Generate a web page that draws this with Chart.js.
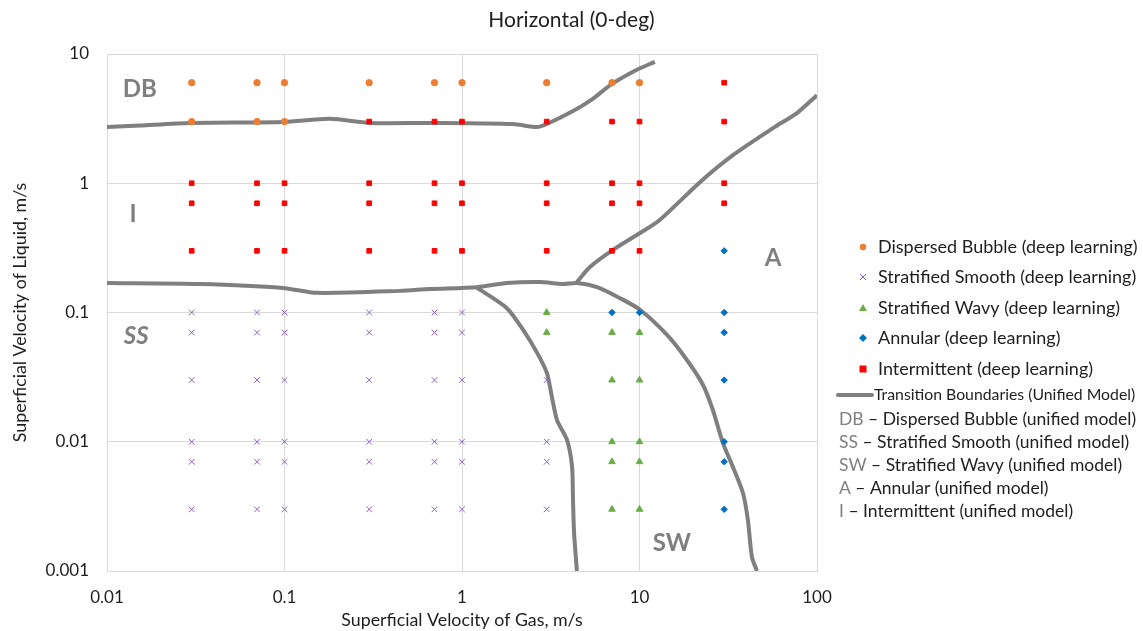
<!DOCTYPE html>
<html>
<head>
<meta charset="utf-8">
<script src="https://cdn.jsdelivr.net/npm/chart.js@4/dist/chart.umd.min.js"></script>
<style>
  html, body { margin: 0; padding: 0; background: #fff; }
  #wrap { width: 1143px; height: 631px; position: relative; }
</style>
</head>
<body>
<div id="wrap"><canvas id="flowMap"></canvas></div>
<script>
// axis ticks (decades)
const xTicks = [0.01, 0.1, 1, 10, 100];
const yTicks = [0.001, 0.01, 0.1, 1, 10];

// deep learning predictions, [gas velocity, liquid velocity]
const dispersedBubble = [
    [0.03, 6], [0.07, 6], [0.1, 6], [0.3, 6], [0.7, 6], [1, 6], [3, 6], [7, 6], [10, 6],
    [0.03, 3], [0.07, 3], [0.1, 3]
];
const stratifiedSmooth = [
    [0.03, 0.1], [0.07, 0.1], [0.1, 0.1], [0.3, 0.1], [0.7, 0.1], [1, 0.1],
    [0.03, 0.07], [0.07, 0.07], [0.1, 0.07], [0.3, 0.07], [0.7, 0.07], [1, 0.07],
    [0.03, 0.03], [0.07, 0.03], [0.1, 0.03], [0.3, 0.03], [0.7, 0.03], [1, 0.03], [3, 0.03],
    [0.03, 0.01], [0.07, 0.01], [0.1, 0.01], [0.3, 0.01], [0.7, 0.01], [1, 0.01], [3, 0.01],
    [0.03, 0.007], [0.07, 0.007], [0.1, 0.007], [0.3, 0.007], [0.7, 0.007], [1, 0.007], [3, 0.007],
    [0.03, 0.003], [0.07, 0.003], [0.1, 0.003], [0.3, 0.003], [0.7, 0.003], [1, 0.003], [3, 0.003]
];
const stratifiedWavy = [
    [3, 0.1], [3, 0.07], [7, 0.07], [10, 0.07],
    [7, 0.03], [10, 0.03], [7, 0.01], [10, 0.01],
    [7, 0.007], [10, 0.007], [7, 0.003], [10, 0.003]
];
const annular = [
    [30, 0.3], [7, 0.1], [10, 0.1], [30, 0.1], [30, 0.07],
    [30, 0.03], [30, 0.01], [30, 0.007], [30, 0.003]
];
const intermittent = [
    [30, 6],
    [0.3, 3], [0.7, 3], [1, 3], [3, 3], [7, 3], [10, 3], [30, 3],
    [0.03, 1], [0.07, 1], [0.1, 1], [0.3, 1], [0.7, 1], [1, 1], [3, 1], [7, 1], [10, 1], [30, 1],
    [0.03, 0.7], [0.07, 0.7], [0.1, 0.7], [0.3, 0.7], [0.7, 0.7], [1, 0.7], [3, 0.7], [7, 0.7], [10, 0.7], [30, 0.7],
    [0.03, 0.3], [0.07, 0.3], [0.1, 0.3], [0.3, 0.3], [0.7, 0.3], [1, 0.3], [3, 0.3], [7, 0.3], [10, 0.3]
];

// unified model transition boundaries
const boundaryDB = [
    [0.01, 2.72], [0.0153, 2.8], [0.0294, 2.93], [0.0993, 2.98], [0.18, 3.15], [0.303, 2.93],
    [0.687, 2.93], [1.94, 2.87], [2.65, 2.72], [3.05, 2.9], [4.2, 3.6], [5.4, 4.45],
    [6.9, 5.8], [9.2, 7.3], [12.2, 8.7]
];
const boundaryA = [
    [4.44, 0.172], [5.26, 0.225], [7.09, 0.305], [10.07, 0.412], [13.0, 0.52],
    [21.9, 1.02], [33.6, 1.65], [56.5, 2.67], [77.1, 3.49], [100, 4.8]
];
const boundarySS = [
    [0.01, 0.169], [0.0334, 0.166], [0.098, 0.155], [0.152, 0.142], [0.448, 0.147],
    [0.66, 0.152], [1.216, 0.157], [1.79, 0.169], [2.75, 0.172], [3.7, 0.166], [4.44, 0.169],
    [5.77, 0.157], [7.77, 0.129], [10.07, 0.105], [14.3, 0.067], [18.5, 0.0429],
    [22.8, 0.0275], [25.9, 0.0176], [29.5, 0.0098], [33.6, 0.00638], [38.3, 0.004],
    [40.8, 0.00248], [43.0, 0.00128], [45.9, 0.001]
];
const boundarySW = [
    [1.2, 0.157], [1.79, 0.108], [2.21, 0.0733], [2.65, 0.0487], [3.01, 0.034],
    [3.21, 0.0222], [3.43, 0.0147], [3.91, 0.0103], [4.17, 0.0064], [4.22, 0.00354],
    [4.28, 0.00197], [4.44, 0.001]
];

// regime names written inside the map, at [gas, liquid]
const regionNames = ['DB', 'I', 'SS', 'A', 'SW'];
const regionSpots = [[0.0153, 5.36], [0.014, 0.578], [0.0146, 0.0658], [56.5, 0.264], [15.2, 0.00165]];

const FONT = 'Lato, "Open Sans", sans-serif';
const GREY = '#7f7f7f';
const INK = '#1e1e1e';

function toPoints(pairs) {
    return pairs.map(p => ({ x: p[0], y: p[1] }));
}

function markerSet(label, pairs, style, color, radius, extra) {
    return Object.assign({
        label: label,
        data: toPoints(pairs),
        pointStyle: style,
        pointRadius: radius,
        pointHoverRadius: radius,
        backgroundColor: color,
        borderColor: color,
        pointBorderWidth: 1,
        showLine: false,
        order: 0
    }, extra || {});
}

function boundarySet(pairs) {
    return {
        label: 'Transition Boundaries (Unified Model)',
        data: toPoints(pairs),
        showLine: true,
        borderColor: GREY,
        borderWidth: 4,
        pointRadius: 0,
        tension: 0.25,
        fill: false,
        order: 5
    };
}

// title, region names and the custom legend on the right
const annotations = {
    id: 'annotations',
    afterDatasetsDraw(chart) {
        const ctx = chart.ctx;
        const xs = chart.scales.x, ys = chart.scales.y;
        ctx.save();
        ctx.fillStyle = GREY;
        ctx.textAlign = 'center';
        ctx.textBaseline = 'middle';
        regionNames.forEach((name, i) => {
            ctx.font = (name === 'SS' ? 'italic bold 24px ' : 'bold 24px ') + FONT;
            ctx.fillText(name, xs.getPixelForValue(regionSpots[i][0]), ys.getPixelForValue(regionSpots[i][1]));
        });
        ctx.restore();
    },
    afterDraw(chart) {
        const ctx = chart.ctx;
        ctx.save();
        ctx.textBaseline = 'middle';

        // chart title, centred on the whole figure
        ctx.textAlign = 'center';
        ctx.fillStyle = INK;
        ctx.font = '21px ' + FONT;
        ctx.fillText('Horizontal (0-deg)', chart.width / 2, 20);

        ctx.textAlign = 'left';
        const mx = 863, tx = 878;
        const rows = [
            { y: 247, text: 'Dispersed Bubble (deep learning)' },
            { y: 277, text: 'Stratified Smooth (deep learning)' },
            { y: 308, text: 'Stratified Wavy (deep learning)' },
            { y: 338, text: 'Annular (deep learning)' },
            { y: 369, text: 'Intermittent (deep learning)' }
        ];
        // legend markers
        ctx.fillStyle = '#ed7d31';
        ctx.beginPath(); ctx.arc(mx, rows[0].y, 3.2, 0, Math.PI * 2); ctx.fill();
        ctx.strokeStyle = '#8b5fc8'; ctx.lineWidth = 1;
        ctx.beginPath();
        ctx.moveTo(mx - 3, rows[1].y - 3); ctx.lineTo(mx + 3, rows[1].y + 3);
        ctx.moveTo(mx + 3, rows[1].y - 3); ctx.lineTo(mx - 3, rows[1].y + 3);
        ctx.stroke();
        ctx.fillStyle = '#6aad45';
        ctx.beginPath();
        ctx.moveTo(mx, rows[2].y - 4); ctx.lineTo(mx + 4, rows[2].y + 3); ctx.lineTo(mx - 4, rows[2].y + 3);
        ctx.closePath(); ctx.fill();
        ctx.fillStyle = '#0070c0';
        ctx.beginPath();
        ctx.moveTo(mx, rows[3].y - 4); ctx.lineTo(mx + 4, rows[3].y); ctx.lineTo(mx, rows[3].y + 4); ctx.lineTo(mx - 4, rows[3].y);
        ctx.closePath(); ctx.fill();
        ctx.fillStyle = '#ff0000';
        ctx.fillRect(mx - 3.5, rows[4].y - 3.5, 7, 7);

        ctx.fillStyle = INK;
        ctx.font = '18px ' + FONT;
        rows.forEach(r => ctx.fillText(r.text, tx, r.y));

        // boundary swatch
        ctx.strokeStyle = GREY;
        ctx.lineWidth = 4;
        ctx.lineCap = 'round';
        ctx.beginPath(); ctx.moveTo(838, 395); ctx.lineTo(872, 395); ctx.stroke();
        ctx.font = '15.8px ' + FONT;
        ctx.fillStyle = INK;
        ctx.fillText('Transition Boundaries (Unified Model)', 874, 395);

        const keys = [
            ['DB', ' \u2013 Dispersed Bubble (unified model)', 419],
            ['SS', ' \u2013 Stratified Smooth (unified model)', 442],
            ['SW', ' \u2013 Stratified Wavy (unified model)', 465],
            ['A', ' \u2013 Annular (unified model)', 488],
            ['I', ' \u2013 Intermittent (unified model)', 511]
        ];
        ctx.font = '17.5px ' + FONT;
        keys.forEach(k => {
            ctx.fillStyle = GREY;
            ctx.fillText(k[0], 839, k[2]);
            const w = ctx.measureText(k[0]).width;
            ctx.fillStyle = INK;
            ctx.fillText(k[1], 839 + w, k[2]);
        });
        ctx.restore();
    }
};

const ctx = document.getElementById('flowMap').getContext('2d');
new Chart(ctx, {
    type: 'scatter',
    data: {
        datasets: [
            markerSet('Dispersed Bubble (deep learning)', dispersedBubble, 'circle', '#ed7d31', 3.2),
            markerSet('Stratified Smooth (deep learning)', stratifiedSmooth, 'crossRot', '#8b5fc8', 4, { backgroundColor: 'transparent' }),
            markerSet('Stratified Wavy (deep learning)', stratifiedWavy, 'triangle', '#6aad45', 3.8),
            markerSet('Annular (deep learning)', annular, 'rectRot', '#0070c0', 3.2),
            markerSet('Intermittent (deep learning)', intermittent, 'rect', '#ff0000', 3.3),
            boundarySet(boundaryDB),
            boundarySet(boundaryA),
            boundarySet(boundarySS),
            boundarySet(boundarySW)
        ]
    },
    options: {
        responsive: true,
        maintainAspectRatio: false,
        animation: false,
        layout: { padding: { left: 0, right: 326, top: 54, bottom: 0 } },
        plugins: {
            legend: { display: false },
            tooltip: { enabled: false },
            title: { display: false }
        },
        scales: {
            x: {
                type: 'logarithmic',
                min: 0.01,
                max: 100,
                afterBuildTicks: scale => { scale.ticks = xTicks.map(v => ({ value: v })); },
                afterFit: scale => { scale.height = 60; },
                ticks: {
                    color: INK,
                    font: { family: FONT, size: 17 },
                    padding: 16,
                    maxRotation: 0,
                    callback: v => String(v)
                },
                grid: { color: '#d9d9d9', drawTicks: false },
                border: { color: '#d9d9d9' },
                title: {
                    display: true,
                    text: 'Superficial Velocity of Gas, m/s',
                    color: INK,
                    font: { family: FONT, size: 17.8 },
                    padding: { top: 0, bottom: 0 }
                }
            },
            y: {
                type: 'logarithmic',
                min: 0.001,
                max: 10,
                afterBuildTicks: scale => { scale.ticks = yTicks.map(v => ({ value: v })); },
                afterFit: scale => { scale.width = 107; },
                ticks: {
                    color: INK,
                    font: { family: FONT, size: 17 },
                    padding: 18,
                    callback: v => String(v)
                },
                grid: { color: '#d9d9d9', drawTicks: false },
                border: { color: '#d9d9d9' },
                title: {
                    display: true,
                    text: 'Superficial Velocity of Liquid, m/s',
                    color: INK,
                    font: { family: FONT, size: 17.8 },
                    padding: { top: 10, bottom: 0 }
                }
            }
        }
    },
    plugins: [annotations]
});
</script>
</body>
</html>
